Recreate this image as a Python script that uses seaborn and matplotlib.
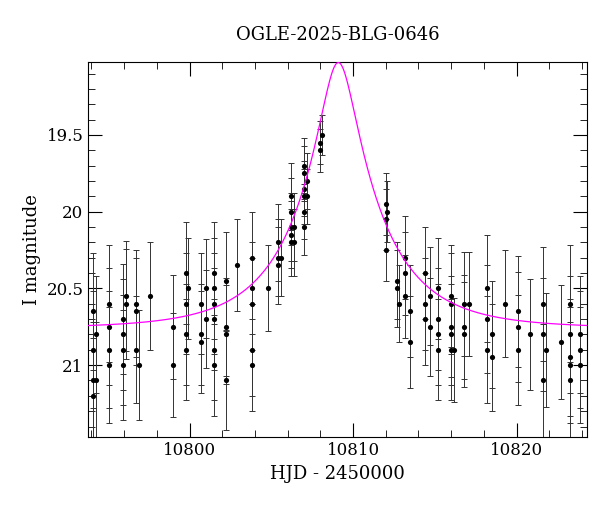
import numpy as np
import pandas as pd
import seaborn as sns
import matplotlib.pyplot as plt
from matplotlib.ticker import MultipleLocator

# Photometry groups: (HJD-2450000, magnitudes, error)
groups = [
    (10794.1, [20.65, 20.9, 21.1, 21.2], 0.38),
    (10794.3, [20.8, 21.1], 0.38),
    (10795.1, [20.6, 20.75, 20.9, 21.0], 0.38),
    (10795.9, [20.7, 20.8, 20.9, 21.0], 0.36),
    (10796.1, [20.55, 20.6], 0.36),
    (10796.7, [20.6, 20.65, 20.9], 0.35),
    (10796.9, [21.0], 0.36),
    (10797.6, [20.55], 0.35),
    (10799.0, [20.75, 21.0], 0.34),
    (10799.8, [20.4, 20.6, 20.8, 20.9], 0.33),
    (10799.9, [20.5], 0.33),
    (10800.7, [20.6, 20.8, 20.85], 0.33),
    (10801.0, [20.5, 20.7], 0.32),
    (10801.5, [20.4, 20.5, 20.6, 20.7, 20.9, 21.0], 0.33),
    (10802.2, [20.45, 20.75, 20.8, 21.1], 0.32),
    (10802.9, [20.35], 0.3),
    (10803.8, [20.3, 20.5, 20.6, 20.9, 21.0], 0.3),
    (10804.8, [20.5], 0.28),
    (10805.4, [20.2, 20.3, 20.35], 0.25),
    (10805.6, [20.3], 0.25),
    (10806.2, [19.9, 20.0, 20.1, 20.15, 20.2], 0.22),
    (10806.4, [20.1, 20.2], 0.22),
    (10807.0, [19.7, 19.75, 19.85, 19.9, 20.0, 20.1], 0.18),
    (10807.2, [19.8, 19.9], 0.18),
    (10808.0, [19.55, 19.6], 0.14),
    (10808.1, [19.5], 0.13),
    (10812.0, [19.95, 20.05, 20.25], 0.2),
    (10812.1, [20.0], 0.2),
    (10812.7, [20.5, 20.45], 0.25),
    (10812.8, [20.6], 0.25),
    (10813.2, [20.3, 20.4, 20.55], 0.27),
    (10813.5, [20.65, 20.85], 0.3),
    (10814.4, [20.4, 20.6, 20.7], 0.3),
    (10814.7, [20.55, 20.75], 0.32),
    (10815.2, [20.5, 20.7, 20.8, 20.9], 0.33),
    (10816.0, [20.55, 20.6, 20.75, 20.8, 20.9], 0.33),
    (10816.2, [20.9], 0.34),
    (10816.8, [20.6, 20.75, 20.8], 0.34),
    (10817.1, [20.6], 0.34),
    (10818.2, [20.5, 20.7, 20.9], 0.35),
    (10818.5, [20.8, 20.95], 0.35),
    (10819.3, [20.6], 0.35),
    (10820.1, [20.65, 20.75, 20.9], 0.36),
    (10820.8, [20.8], 0.36),
    (10821.6, [20.6, 20.8, 21.1], 0.37),
    (10821.8, [20.9], 0.37),
    (10822.7, [20.85], 0.37),
    (10823.3, [20.6, 20.8, 20.95, 21.0, 21.1], 0.38),
    (10823.9, [20.8, 20.9, 21.0], 0.38),
]

hjd = [g[0] for g in groups for m in g[1]]
mag = [m for g in groups for m in g[1]]
err = [g[2] for g in groups for m in g[1]]
df = pd.DataFrame({"hjd": hjd, "mag": mag, "err": err})

# Point-lens model fit parameters
t0, tE, u0, I0 = 10809.1, 5.1, 0.206, 20.76
t = np.linspace(10793.8, 10824.3, 800)
u = np.sqrt(u0**2 + ((t - t0) / tE) ** 2)
A = (u**2 + 2) / (u * np.sqrt(u**2 + 4))
model = I0 - 2.5 * np.log10(A)

plt.rcParams["font.family"] = "DejaVu Serif"
fig, ax = plt.subplots(figsize=(6, 5.12), dpi=100)
fig.subplots_adjust(left=0.147, right=0.978, top=0.879, bottom=0.146)

ax.errorbar(df.hjd, df.mag, yerr=df.err, fmt="none", ecolor="#333333",
            elinewidth=0.7, capsize=2.5, capthick=0.7)
sns.scatterplot(data=df, x="hjd", y="mag", color="black", s=14,
                edgecolor="black", linewidth=0, ax=ax, zorder=3)
sns.lineplot(x=t, y=model, color="magenta", linewidth=0.9, ax=ax, zorder=4)

ax.set_xlim(10793.8, 10824.3)
ax.set_ylim(21.47, 19.024)
ax.xaxis.set_major_locator(MultipleLocator(10))
ax.xaxis.set_minor_locator(MultipleLocator(2))
ax.yaxis.set_minor_locator(MultipleLocator(0.1))
ax.set_yticks([19.5, 20, 20.5, 21])
ax.set_yticklabels(["19.5", "20", "20.5", "21"])
ax.tick_params(which="both", direction="in", top=True, right=True, labelsize=12)
ax.tick_params(which="major", length=10)
ax.tick_params(which="minor", length=5)
ax.set_xlabel("HJD - 2450000", fontsize=13)
ax.set_ylabel("I magnitude", fontsize=13)
ax.set_title("OGLE-2025-BLG-0646", fontsize=13, pad=16)

fig.savefig("out.png")
